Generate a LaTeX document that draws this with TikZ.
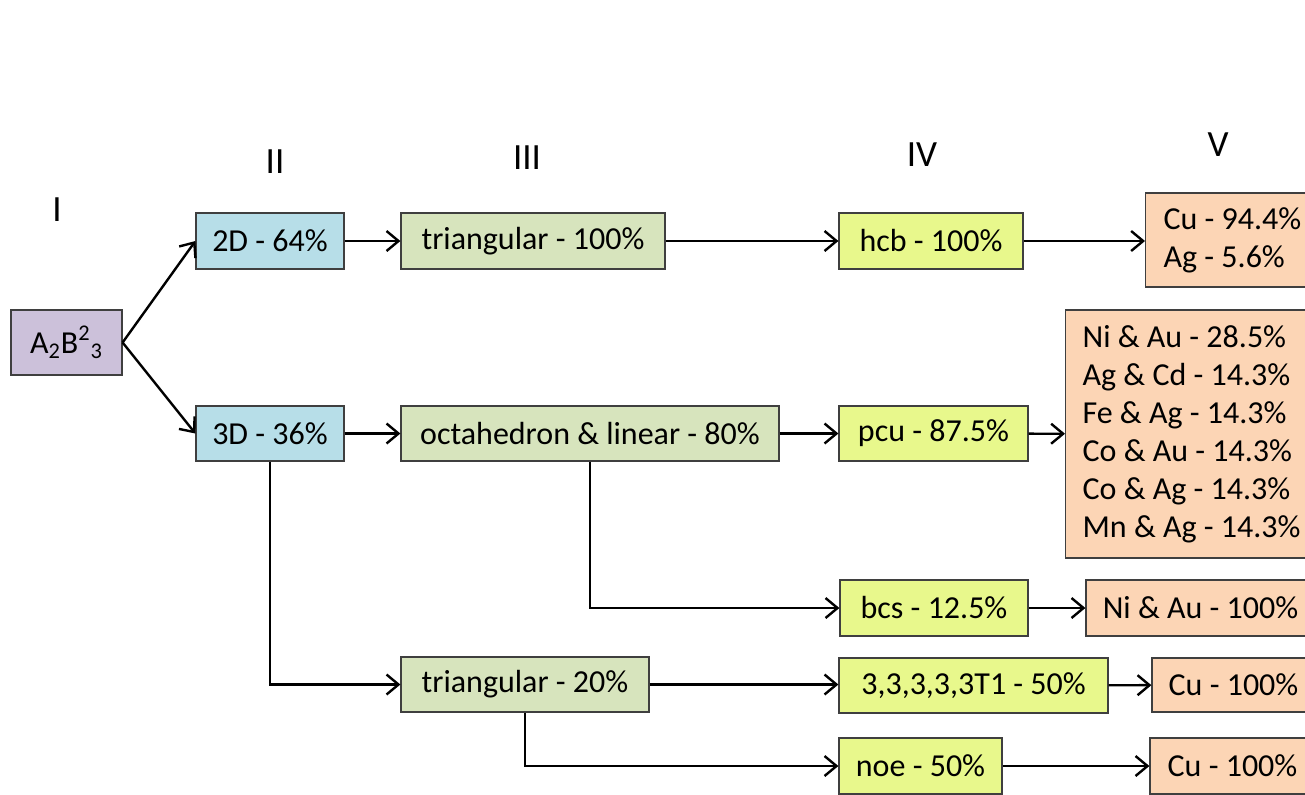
\documentclass[tikz,border=0pt]{standalone}
\usepackage{fontspec}
\setmainfont{Carlito}
\usetikzlibrary{positioning,arrows.meta}
\definecolor{edge}{HTML}{3F3F3F}
\definecolor{rootc}{HTML}{CCC1DA}
\definecolor{dimc}{HTML}{B7DEE8}
\definecolor{geomc}{HTML}{D7E4BD}
\definecolor{topoc}{HTML}{E8F88C}
\definecolor{metalc}{HTML}{FCD5B5}

\tikzset{
  box/.style={draw=edge,line width=0.6pt,inner sep=0pt,font=\fontsize{16}{19}\selectfont},
  lvl/.style={font=\fontsize{18.5}{20}\selectfont},
  arr/.style={line width=1.2pt,-{Straight Barb[length=6pt,width=10pt]}}
}

\begin{document}
\begin{tikzpicture}[x=0.5pt,y=-0.5pt]
  \useasboundingbox (0,0) rectangle (1305,794);
  \clip (0,0) rectangle (1305,794);
  % level labels
  \node[lvl] (l1) at (57,210) {I};
  \node[lvl] (l2) at (275,162) {II};
  \node[lvl] (l3) at (527,158) {III};
  \node[lvl] (l4) at (922,155) {IV};
  \node[lvl] (l5) at (1218,145) {V};
  % boxes
  \node[box,fill=rootc,minimum width=55.5pt,minimum height=32.5pt] (root) at (66.5,342.5) {A\textsubscript{2}B\textsuperscript{2}\textsubscript{3}};
  \node[box,fill=dimc,minimum width=74pt,minimum height=28pt] (twoD) at (270,241) {2D - 64\%};
  \node[box,fill=dimc,minimum width=74pt,minimum height=27.5pt] (threeD) at (270,433.5) {3D - 36\%};
  \node[box,fill=geomc,minimum width=132pt,minimum height=28pt] (triA) at (533,241) {triangular - 100\%};
  \node[box,fill=geomc,minimum width=189pt,minimum height=27.5pt] (octa) at (590,433.5) {octahedron \& linear - 80\%};
  \node[box,fill=geomc,minimum width=124pt,minimum height=27.5pt] (triB) at (525,684.5) {triangular - 20\%};
  \node[box,fill=topoc,minimum width=92pt,minimum height=28pt] (hcb) at (931,241) {hcb - 100\%};
  \node[box,fill=topoc,minimum width=94.5pt,minimum height=27.5pt] (pcu) at (933.5,433.5) {pcu - 87.5\%};
  \node[box,fill=topoc,minimum width=94pt,minimum height=28pt] (bcs) at (934,608) {bcs - 12.5\%};
  \node[box,fill=topoc,minimum width=134.5pt,minimum height=27.5pt] (tfive) at (973.5,685.5) {3,3,3,3,3T1 - 50\%};
  \node[box,fill=topoc,minimum width=81.5pt,minimum height=28pt] (noe) at (920.5,766) {noe - 50\%};
  \node[box,fill=metalc,anchor=west,align=flush left,text width=85pt,inner xsep=9pt,minimum height=47pt] (mHcb) at (1145,240) {Cu - 94.4\%\\Ag - 5.6\%};
  \node[box,fill=metalc,anchor=west,align=flush left,text width=120pt,inner xsep=8.5pt,minimum height=124pt] (mPcu) at (1065,434) {Ni \& Au - 28.5\%\\Ag \& Cd - 14.3\%\\Fe \& Ag - 14.3\%\\Co \& Au - 14.3\%\\Co \& Ag - 14.3\%\\Mn \& Ag - 14.3\%};
  \node[box,fill=metalc,minimum width=114.5pt,minimum height=28pt] (mBcs) at (1200.5,608) {Ni \& Au - 100\%};
  \node[box,fill=metalc,minimum width=81.5pt,minimum height=27pt] (mTfive) at (1233.5,685) {Cu - 100\%};
  \node[box,fill=metalc,minimum width=82.5pt,minimum height=28pt] (mNoe) at (1232.5,766) {Cu - 100\%};
  % connectors
  \draw[arr] (root.east) -- (twoD.west);
  \draw[arr] (root.east) -- (threeD.west);
  \draw[arr] (twoD) -- (triA);
  \draw[arr] (threeD) -- (octa);
  \draw[arr] (threeD.south) |- (triB.west);
  \draw[arr] (triA) -- (hcb);
  \draw[arr] (octa) -- (pcu);
  \draw[arr] (octa.south) |- (bcs.west);
  \draw[arr] (triB.east) -- (triB.east -| tfive.west);
  \draw[arr] (triB.south) |- (noe.west);
  \draw[arr] (hcb.east) -- (hcb.east -| mHcb.west);
  \draw[arr] (pcu) -- (mPcu);
  \draw[arr] (bcs) -- (mBcs);
  \draw[arr] (tfive) -- (mTfive);
  \draw[arr] (noe) -- (mNoe);
\end{tikzpicture}
\end{document}
